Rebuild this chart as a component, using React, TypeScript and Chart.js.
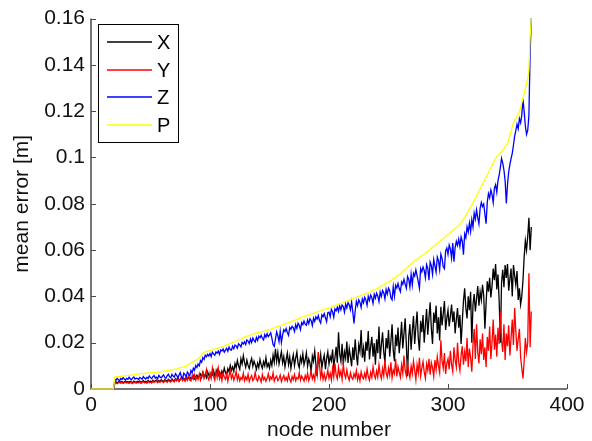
import React, { useEffect, useRef } from "react";
import { Chart, registerables } from "chart.js";

Chart.register(...registerables);

// Node numbers: nodes 0..19 have zero error, measured nodes start at 20 and end at 370.
const ZERO_NODES = [0, 19];
const FIRST_NODE = 20;

// Mean errors in millimetres, one value per node from node 20 to node 370.
const X_ERR_MM = [
  2.8, 3.1, 2.7, 3.0, 3.3, 2.9, 3.2, 2.8, 3.0, 3.4,
  2.9, 3.2, 2.8, 3.3, 3.0, 2.7, 3.4, 3.1, 2.9, 3.3,
  3.0, 3.5, 2.8, 3.2, 3.6, 3.0, 3.3, 2.9, 3.7, 3.1,
  3.4, 3.0, 3.8, 3.2, 3.5, 3.9, 3.1, 3.6, 3.3, 4.0,
  3.5, 3.2, 4.1, 3.6, 3.3, 4.2, 3.7, 3.4, 4.4, 3.8,
  3.5, 4.5, 3.9, 4.8, 3.6, 4.2, 5.0, 3.9, 4.6, 4.1,
  4.9, 4.3, 5.5, 4.2, 5.0, 4.6, 5.8, 4.4, 5.3, 6.0,
  4.8, 5.6, 6.5, 5.0, 7.2, 5.5, 6.3, 4.9, 7.5, 6.0,
  5.2, 7.0, 6.1, 8.0, 5.8, 6.6, 8.4, 6.0, 7.3, 5.5,
  7.8, 6.4, 9.0, 7.1, 6.0, 8.8, 7.4, 10.2, 8.0, 9.5,
  7.6, 11.0, 9.2, 12.3, 10.0, 8.5, 13.0, 10.8, 14.4, 11.5,
  9.4, 12.5, 10.2, 8.8, 11.6, 13.2, 9.8, 12.0, 10.5, 8.5,
  11.2, 9.3, 12.8, 10.4, 8.9, 11.8, 10.0, 13.5, 9.6, 11.0,
  9.0, 12.4, 10.2, 14.6, 11.5, 17.4, 12.0, 15.8, 10.8, 13.6,
  16.2, 11.3, 14.0, 9.5, 12.7, 15.5, 10.6, 13.9, 8.9, 12.2,
  14.8, 10.1, 13.3, 16.0, 11.0, 9.2, 13.8, 11.6, 15.2, 10.4,
  12.6, 15.6, 9.8, 13.0, 11.2, 7.4, 14.2, 12.0, 16.4, 10.6,
  5.5, 13.8, 11.0, 15.0, 9.2, 12.4, 14.6, 8.6, 13.2, 16.0,
  10.8, 14.0, 12.2, 17.0, 9.6, 13.5, 18.2, 11.4, 24.5, 15.0,
  12.0, 19.5, 10.5, 16.0, 13.2, 20.5, 11.2, 17.5, 14.0, 9.8,
  18.0, 12.5, 21.5, 14.8, 10.2, 19.0, 16.2, 25.5, 13.5, 17.8,
  11.8, 20.5, 16.5, 25.0, 12.8, 18.5, 22.5, 14.0, 19.8, 10.5,
  21.5, 15.5, 27.0, 13.0, 19.0, 24.5, 16.0, 11.5, 22.0, 17.5,
  25.5, 14.0, 20.5, 28.0, 16.5, 12.0, 23.5, 18.5, 26.5, 15.5,
  21.5, 29.0, 17.5, 24.0, 30.5, 19.0, 5.5, 22.5, 28.0, 17.0,
  25.0, 31.5, 19.5, 27.0, 33.5, 22.0, 16.5, 29.5, 24.5, 32.0,
  20.0, 27.5, 34.5, 23.5, 30.5, 37.5, 26.0, 19.5, 33.0, 28.5,
  36.0, 24.0, 31.0, 21.0, 35.5, 27.5, 32.5, 38.0, 25.5, 30.5,
  34.0, 27.0, 31.5, 36.5, 29.0, 33.5, 24.0, 30.0, 35.0, 26.5,
  32.0, 19.5, 29.0, 38.0, 43.5, 35.0, 30.5, 40.0, 34.0, 42.0,
  20.0, 36.5, 41.0, 33.5, 39.0, 44.5, 36.0, 42.0, 38.5, 45.0,
  40.5, 26.0, 37.0, 46.5, 42.0, 48.0, 39.5, 44.5, 52.0, 47.0,
  54.0, 43.0, 49.5, 38.0, 20.0, 46.0, 51.5, 44.0, 53.5, 48.0,
  54.0, 42.5, 47.5, 52.0, 40.0, 53.5, 49.0, 45.0, 51.0, 38.5,
  43.5, 36.5, 40.0, 47.0, 57.0, 64.0, 60.0, 66.0, 74.0, 60.0,
  70.0,
];

const Y_ERR_MM = [
  2.4, 2.7, 2.3, 2.6, 2.9, 2.5, 2.8, 2.4, 2.7, 3.0,
  2.5, 2.8, 2.4, 2.9, 2.6, 2.3, 3.0, 2.7, 2.5, 2.9,
  2.6, 3.1, 2.4, 2.8, 3.2, 2.6, 2.9, 2.5, 3.3, 2.7,
  3.0, 2.6, 3.4, 2.8, 3.1, 3.5, 2.7, 3.2, 2.9, 3.6,
  3.1, 2.8, 3.7, 3.2, 2.9, 3.8, 3.3, 3.0, 4.0, 3.4,
  3.0, 4.2, 3.5, 4.6, 3.2, 3.9, 5.0, 3.6, 4.4, 3.3,
  4.8, 3.7, 5.4, 4.0, 3.5, 5.8, 4.3, 6.2, 3.8, 5.0,
  4.2, 6.5, 3.9, 5.6, 7.2, 4.5, 6.0, 8.4, 5.2, 4.0,
  6.8, 4.6, 9.0, 5.5, 3.8, 7.5, 5.0, 8.8, 4.4, 6.4,
  3.6, 7.0, 5.2, 4.2, 6.6, 3.4, 5.8, 8.0, 4.6, 6.2,
  3.8, 5.4, 7.6, 4.0, 6.0, 3.5, 5.0, 4.2, 6.8, 3.6,
  5.2, 4.0, 6.4, 3.2, 4.8, 5.8, 3.6, 4.4, 7.2, 4.2,
  3.4, 5.6, 4.6, 3.0, 6.2, 4.0, 5.0, 3.3, 4.6, 6.6,
  3.8, 5.2, 4.2, 7.0, 3.4, 4.8, 5.6, 3.6, 4.4, 6.0,
  3.2, 4.6, 5.8, 3.8, 5.0, 3.5, 6.4, 4.2, 3.0, 5.4,
  4.0, 6.2, 3.6, 5.0, 4.4, 7.0, 3.8, 5.6, 4.6, 3.4,
  5.8, 4.2, 6.8, 3.6, 5.2, 8.0, 4.4, 6.0, 3.8, 9.5,
  6.2, 16.0, 10.5, 5.0, 7.6, 4.2, 6.6, 3.8, 5.4, 8.2,
  4.6, 6.8, 3.9, 8.8, 5.2, 11.0, 6.0, 4.4, 9.4, 5.6,
  7.8, 4.2, 10.6, 6.4, 4.8, 8.2, 5.4, 3.8, 7.0, 5.0,
  4.2, 6.6, 5.0, 8.0, 4.0, 6.2, 3.6, 7.4, 5.2, 4.4,
  6.8, 4.6, 8.6, 5.4, 3.8, 7.2, 5.0, 9.6, 6.0, 4.6,
  7.8, 5.2, 10.4, 6.4, 4.4, 8.8, 5.8, 12.6, 7.0, 5.0,
  9.0, 6.0, 11.5, 4.8, 8.2, 6.6, 13.0, 5.4, 9.6, 7.2,
  5.0, 10.4, 6.8, 14.5, 8.0, 5.6, 11.2, 7.4, 4.8, 9.8,
  6.6, 12.0, 8.2, 4.0, 10.5, 7.0, 13.5, 5.6, 9.0, 11.8,
  7.4, 4.6, 10.8, 8.0, 13.0, 6.2, 11.4, 9.2, 5.4, 12.5,
  8.4, 14.0, 10.0, 7.0, 21.0, 12.0, 9.0, 15.5, 6.5, 11.0,
  13.0, 8.5, 16.5, 10.5, 7.5, 18.0, 12.5, 9.5, 20.0, 11.5,
  8.0, 14.5, 18.5, 10.5, 16.0, 12.0, 22.0, 9.5, 17.5, 13.5,
  7.5, 19.0, 26.0, 13.0, 28.0, 16.0, 11.0, 21.5, 15.0, 24.0,
  12.5, 18.0, 9.5, 22.5, 16.5, 27.0, 13.0, 20.0, 30.0, 17.0,
  23.5, 14.0, 26.5, 19.5, 33.5, 21.0, 16.0, 28.0, 12.5, 24.0,
  18.5, 27.5, 14.5, 22.0, 30.0, 19.0, 35.0, 25.0, 16.5, 21.5,
  26.0, 14.0, 9.0, 4.6, 12.0, 22.0, 16.0, 20.0, 50.0, 18.0,
  33.5,
];

const Z_ERR_MM = [
  4.2, 3.8, 4.6, 4.0, 3.6, 4.5, 4.1, 4.9, 4.3, 3.9,
  4.6, 4.2, 5.1, 4.4, 4.0, 4.8, 5.2, 4.3, 4.7, 4.5,
  4.1, 5.0, 4.6, 4.2, 5.4, 4.7, 4.3, 5.1, 4.6, 5.6,
  4.9, 4.5, 5.3, 5.8, 4.7, 5.1, 4.4, 5.9, 5.2, 4.8,
  5.5, 6.1, 5.0, 4.6, 5.7, 6.4, 5.3, 4.9, 6.3, 5.6,
  5.1, 6.6, 5.9, 4.7, 6.0, 7.1, 5.3, 4.6, 6.8, 6.2,
  5.2, 7.3, 6.5, 5.8, 8.0, 6.9, 9.0, 8.1, 10.2, 9.3,
  10.8, 10.0, 12.3, 11.6, 13.6, 12.8, 14.6, 13.9, 15.0, 14.3,
  15.3, 14.0, 15.9, 15.2, 14.6, 16.0, 15.5, 16.4, 15.0, 16.9,
  16.4, 17.3, 15.9, 16.8, 17.6, 16.3, 18.1, 17.0, 16.8, 18.5,
  17.4, 19.0, 18.6, 17.6, 19.5, 19.0, 18.2, 20.1, 19.4, 20.4,
  19.2, 21.2, 20.7, 19.6, 21.6, 20.1, 22.0, 21.0, 20.3, 22.3,
  21.0, 22.8, 22.1, 23.2, 21.9, 21.2, 23.5, 22.4, 23.9, 22.6,
  23.4, 24.3, 22.0, 19.2, 18.4, 21.6, 24.7, 23.0, 20.5, 24.9,
  20.0, 23.4, 25.6, 24.8, 26.1, 24.4, 23.2, 26.6, 25.8, 27.1,
  26.4, 24.8, 27.8, 26.2, 28.4, 27.5, 25.6, 28.7, 27.8, 29.4,
  28.0, 27.5, 29.8, 28.2, 30.3, 29.6, 27.4, 30.6, 29.2, 31.2,
  30.2, 31.7, 29.6, 28.5, 32.0, 31.2, 32.6, 30.8, 29.1, 33.0,
  33.2, 31.2, 34.4, 33.4, 31.0, 34.6, 33.8, 35.3, 33.5, 36.0,
  34.2, 36.3, 35.6, 33.2, 36.7, 35.0, 37.3, 36.4, 34.2, 37.6,
  33.2, 28.3, 33.8, 37.9, 36.0, 38.5, 37.4, 35.2, 38.9, 37.3,
  39.6, 38.5, 36.2, 40.0, 38.3, 40.6, 39.5, 37.0, 40.9, 39.2,
  41.4, 40.2, 37.8, 41.9, 40.0, 42.6, 41.6, 38.9, 43.0, 41.0,
  43.6, 42.5, 39.4, 38.5, 44.2, 40.0, 44.8, 43.6, 45.6, 43.4,
  42.0, 46.2, 45.2, 47.4, 45.3, 43.5, 48.6, 47.4, 44.0, 49.6,
  45.0, 50.0, 48.8, 51.5, 49.0, 46.4, 43.5, 52.0, 50.6, 52.7,
  51.2, 48.0, 53.7, 52.2, 47.0, 54.8, 53.3, 49.6, 56.0, 53.2,
  50.5, 57.0, 55.4, 51.6, 58.2, 56.4, 52.8, 52.0, 59.7, 60.9,
  58.2, 62.2, 60.5, 56.6, 63.0, 55.0, 61.2, 63.8, 62.0, 64.7,
  61.6, 65.7, 63.9, 58.0, 67.0, 65.3, 70.0, 67.8, 71.7, 68.0,
  73.2, 70.0, 76.0, 73.4, 77.4, 74.0, 71.3, 78.0, 80.6, 78.8,
  79.9, 75.6, 71.4, 80.7, 84.4, 82.6, 86.0, 84.0, 80.5, 86.8,
  88.3, 85.0, 90.0, 92.4, 95.8, 99.6, 97.6, 94.6, 90.0, 80.2,
  88.3, 93.8, 97.0, 99.5, 101.8, 105.3, 109.2, 111.6, 114.4, 112.4,
  116.8, 115.0, 118.2, 125.2, 119.8, 113.6, 110.0, 111.8, 118.2, 145.0,
  160.0,
];

const P_ERR_MM = [
  5.2, 5.3, 5.3, 5.4, 5.4, 5.5, 5.5, 5.6, 5.7, 5.7,
  5.8, 5.8, 5.9, 5.9, 6.0, 6.1, 6.1, 6.2, 6.3, 6.4,
  6.5, 6.5, 6.6, 6.6, 6.7, 6.7, 6.8, 6.8, 6.9, 6.9,
  7.0, 7.0, 7.1, 7.1, 7.2, 7.2, 7.3, 7.3, 7.4, 7.4,
  7.5, 7.6, 7.7, 7.8, 7.9, 8.0, 8.1, 8.2, 8.3, 8.4,
  8.5, 8.6, 8.7, 8.9, 9.0, 9.2, 9.3, 9.5, 9.7, 9.8,
  10.0, 10.3, 10.6, 10.9, 11.2, 11.5, 11.8, 12.1, 12.4, 12.7,
  13.0, 13.6, 14.2, 14.8, 15.3, 15.8, 16.0, 16.2, 16.3, 16.5,
  16.6, 16.8, 16.9, 17.1, 17.2, 17.4, 17.6, 17.7, 17.9, 18.0,
  18.2, 18.4, 18.6, 18.8, 19.0, 19.2, 19.5, 19.7, 19.9, 20.1,
  20.3, 20.5, 20.7, 20.9, 21.2, 21.4, 21.6, 21.9, 22.1, 22.4,
  22.6, 22.8, 23.0, 23.1, 23.3, 23.5, 23.7, 23.8, 24.0, 24.2,
  24.3, 24.4, 24.5, 24.7, 24.8, 24.9, 25.0, 25.2, 25.3, 25.5,
  25.6, 25.8, 26.0, 26.2, 26.4, 26.6, 26.8, 27.0, 27.2, 27.4,
  27.5, 27.7, 27.9, 28.1, 28.3, 28.5, 28.7, 28.9, 29.1, 29.3,
  29.5, 29.7, 29.9, 30.1, 30.3, 30.5, 30.7, 30.9, 31.1, 31.3,
  31.5, 31.7, 31.9, 32.0, 32.2, 32.4, 32.6, 32.8, 32.9, 33.1,
  33.3, 33.5, 33.6, 33.8, 34.0, 34.1, 34.3, 34.5, 34.7, 34.8,
  35.0, 35.2, 35.4, 35.6, 35.8, 36.0, 36.2, 36.4, 36.6, 36.8,
  37.0, 37.2, 37.4, 37.6, 37.8, 38.0, 38.2, 38.4, 38.6, 38.8,
  39.0, 39.2, 39.4, 39.6, 39.8, 40.0, 40.2, 40.4, 40.6, 40.8,
  41.0, 41.2, 41.4, 41.6, 41.9, 42.1, 42.4, 42.6, 42.8, 43.0,
  43.3, 43.5, 43.8, 44.1, 44.4, 44.7, 45.0, 45.3, 45.6, 45.9,
  46.2, 46.5, 46.9, 47.2, 47.6, 47.9, 48.3, 48.7, 49.0, 49.4,
  49.8, 50.3, 50.8, 51.2, 51.7, 52.2, 52.7, 53.1, 53.6, 54.0,
  54.5, 54.9, 55.3, 55.7, 56.1, 56.5, 56.9, 57.2, 57.6, 58.0,
  58.3, 58.7, 59.1, 59.5, 59.9, 60.4, 60.8, 61.2, 61.7, 62.1,
  62.5, 62.9, 63.3, 63.7, 64.2, 64.6, 65.0, 65.5, 65.9, 66.4,
  66.8, 67.2, 67.6, 68.0, 68.5, 68.9, 69.3, 69.8, 70.2, 70.6,
  71.0, 71.8, 72.6, 73.4, 74.2, 75.0, 75.9, 76.8, 77.7, 78.6,
  79.5, 80.5, 81.5, 82.5, 83.5, 84.5, 85.5, 86.5, 87.5, 88.5,
  89.5, 90.5, 91.5, 92.5, 93.6, 94.6, 95.6, 96.6, 97.6, 98.6,
  99.6, 100.2, 100.8, 101.3, 101.9, 102.5, 103.2, 103.9, 104.6, 105.3,
  106.0, 107.8, 109.6, 111.4, 113.2, 115.0, 116.0, 117.0, 117.8, 118.7,
  119.6, 121.6, 123.6, 125.6, 127.6, 129.6, 132.0, 134.0, 138.0, 152.0,
  160.0,
];

const SERIES_LABELS = ["X", "Y", "Z", "P"];
const SERIES_COLORS = ["#000000", "#ff0000", "#0000ff", "#ffff00"];
const X_TICK_STEP = 100;
const Y_TICK_STEP = 0.02;

const FONT_FAMILY = "'Liberation Sans', Arial, Helvetica, sans-serif";

function toPoints(valuesMm: number[]) {
  const pts = ZERO_NODES.map((n) => ({ x: n, y: 0 }));
  valuesMm.forEach((v, i) => pts.push({ x: FIRST_NODE + i, y: v / 1000 }));
  return pts;
}

const matlabAxesPlugin = {
  id: "matlabAxes",
  beforeDatasetsDraw(chart: any) {
    const { ctx, chartArea, scales } = chart;
    const { left, right, top, bottom } = chartArea;
    ctx.save();
    ctx.strokeStyle = "#4a4a4a";
    ctx.lineWidth = 1.5;
    ctx.beginPath();
    ctx.moveTo(left, top);
    ctx.lineTo(left, bottom);
    ctx.lineTo(right, bottom);
    ctx.stroke();
    ctx.lineWidth = 1;
    ctx.beginPath();
    scales.x.ticks.forEach((t: any) => {
      const px = Math.round(scales.x.getPixelForValue(t.value)) + 0.5;
      ctx.moveTo(px, bottom);
      ctx.lineTo(px, bottom - 5);
    });
    scales.y.ticks.forEach((t: any) => {
      const py = Math.round(scales.y.getPixelForValue(t.value)) + 0.5;
      ctx.moveTo(left, py);
      ctx.lineTo(left + 5, py);
    });
    ctx.stroke();
    ctx.restore();
  },
  afterDatasetsDraw(chart: any) {
    const { ctx } = chart;
    ctx.save();
    // boxed legend (MATLAB style, upper left)
    const bx = 98.5, by = 24.5, bw = 80, bh = 118;
    ctx.fillStyle = "#ffffff";
    ctx.fillRect(bx, by, bw, bh);
    ctx.strokeStyle = "#000000";
    ctx.lineWidth = 1;
    ctx.strokeRect(bx, by, bw, bh);
    ctx.font = `20px ${FONT_FAMILY}`;
    ctx.textBaseline = "middle";
    ctx.textAlign = "left";
    SERIES_LABELS.forEach((label, i) => {
      const y = Math.round(41.7 + i * 27.8);
      ctx.strokeStyle = SERIES_COLORS[i];
      ctx.lineWidth = 1.6;
      ctx.beginPath();
      ctx.moveTo(107, y);
      ctx.lineTo(152, y);
      ctx.stroke();
      ctx.fillStyle = "#000000";
      ctx.fillText(label, 157, y + 1);
    });
    ctx.restore();
  },
};

export default function App() {
  const ref = useRef<HTMLCanvasElement>(null);

  useEffect(() => {
    document.body.style.margin = "0";
    const canvas = ref.current;
    if (!canvas) return;
    const seriesValues = [X_ERR_MM, Y_ERR_MM, Z_ERR_MM, P_ERR_MM];
    const chart = new Chart(canvas, {
      type: "line",
      data: {
        datasets: SERIES_LABELS.map((label, i) => ({
          label,
          data: toPoints(seriesValues[i]),
          borderColor: SERIES_COLORS[i],
          backgroundColor: SERIES_COLORS[i],
          borderWidth: 1.3,
          pointRadius: 0,
          tension: 0,
          fill: false,
          clip: false,
          order: 4 - i,
        })),
      },
      options: {
        animation: false,
        responsive: false,
        devicePixelRatio: 1,
        parsing: false,
        normalized: true,
        layout: { padding: { left: 0, right: 25, top: 16, bottom: 0 } },
        plugins: {
          legend: { display: false },
          tooltip: { enabled: false },
        },
        scales: {
          x: {
            type: "linear",
            min: 0,
            max: 400,
            ticks: {
              stepSize: X_TICK_STEP,
              autoSkip: false,
              maxRotation: 0,
              padding: 4,
              color: "#111",
              font: { family: FONT_FAMILY, size: 21 },
            },
            grid: { display: false, drawTicks: false },
            border: { display: false },
            title: {
              display: true,
              text: "node number",
              color: "#111",
              padding: 0,
              font: { family: FONT_FAMILY, size: 21, lineHeight: 1 },
            },
            afterFit(scale: any) {
              scale.height = 52;
            },
          },
          y: {
            type: "linear",
            min: 0,
            max: 0.16,
            ticks: {
              stepSize: Y_TICK_STEP,
              autoSkip: false,
              padding: 6,
              color: "#111",
              font: { family: FONT_FAMILY, size: 21 },
              callback: (v: any) => String(+Number(v).toFixed(2)),
            },
            grid: { display: false, drawTicks: false },
            border: { display: false },
            title: {
              display: true,
              text: "mean error [m]",
              color: "#111",
              padding: { top: 12, bottom: 0 },
              font: { family: FONT_FAMILY, size: 21, lineHeight: 1 },
            },
            afterFit(scale: any) {
              scale.width = 91;
            },
          },
        },
      },
      plugins: [matlabAxesPlugin],
    });
    return () => chart.destroy();
  }, []);

  return (
    <div style={{ width: 592, height: 441, background: "#fff" }}>
      <canvas ref={ref} width={592} height={441} style={{ display: "block" }} />
    </div>
  );
}
